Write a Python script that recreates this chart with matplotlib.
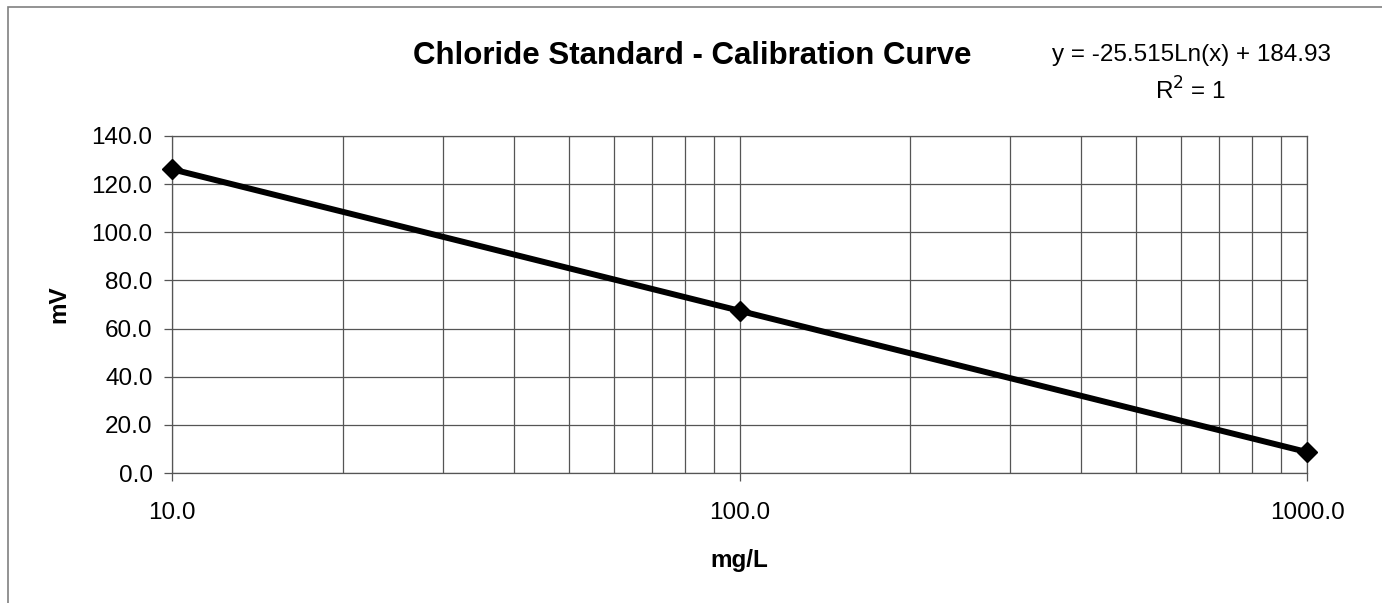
import numpy as np
import matplotlib.pyplot as plt
from matplotlib.patches import Rectangle
from matplotlib.ticker import FixedLocator, LogLocator, NullFormatter

plt.rcParams['font.family'] = ['Liberation Sans', 'DejaVu Sans']

# calibration standards
conc = [10.0, 100.0, 1000.0]
mv = [126.2, 67.4, 8.7]
yticks = [0, 20, 40, 60, 80, 100, 120, 140]
xticks = [10, 100, 1000]

W, H = 1382, 603
fig = plt.figure(figsize=(W / 100, H / 100), dpi=100)
fig.patches.append(Rectangle((8 / W, -0.5), 2.0, 0.5 + 1 - 7 / H,
                             transform=fig.transFigure, fill=False,
                             edgecolor='#808080', lw=1.2))
ax = fig.add_axes([172 / W, 1 - 473 / H, (1307 - 172) / W, (473 - 136) / H])

ax.plot(conc, mv, color='black', lw=4.3, marker='D', ms=10, zorder=5, clip_on=False)

ax.set_xscale('log')
ax.set_xlim(10, 1000)
ax.set_ylim(0, 140)
ax.xaxis.set_major_locator(FixedLocator(xticks))
ax.xaxis.set_minor_locator(LogLocator(base=10, subs=np.arange(2, 10)))
ax.xaxis.set_minor_formatter(NullFormatter())
ax.set_xticklabels([f'{v:.1f}' for v in xticks])
ax.set_yticks(yticks)
ax.set_yticklabels([f'{v:.1f}' for v in yticks])

gc = '#555555'
ax.grid(True, which='major', color=gc, lw=0.9)
ax.grid(True, which='minor', axis='x', color=gc, lw=0.9)
ax.tick_params(axis='both', which='major', labelsize=17.5, length=6, width=0.9,
               color=gc, pad=8)
ax.tick_params(axis='x', which='major', pad=15)
ax.tick_params(axis='x', which='minor', length=0)
for s in ax.spines.values():
    s.set_color(gc)
    s.set_linewidth(0.9)

ax.set_xlabel('mg/L', fontsize=17.5, fontweight='bold', labelpad=18)
ax.set_ylabel('mV', fontsize=17.5, fontweight='bold', labelpad=15)

fig.text(692 / W, 1 - 56 / H, 'Chloride Standard - Calibration Curve',
         ha='center', va='center', fontsize=22.5, fontweight='bold')
fig.text(1191 / W, 1 - 55 / H, 'y = -25.515Ln(x) + 184.93',
         ha='center', va='center', fontsize=17.5)
fig.text(1191 / W, 1 - 91 / H, r'R$^2$ = 1',
         ha='center', va='center', fontsize=17.5)

fig.savefig('out.png', dpi=100)
